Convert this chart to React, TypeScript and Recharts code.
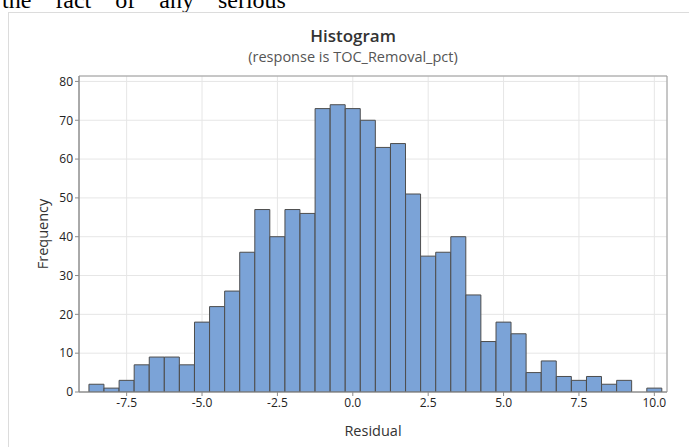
import {
  ComposedChart,
  Bar,
  XAxis,
  YAxis,
  CartesianGrid,
  ReferenceArea,
} from "recharts";

// bin midpoints (width 0.5) and counts
const binMids: number[] = [
  -8.5, -8.0, -7.5, -7.0, -6.5, -6.0, -5.5, -5.0, -4.5, -4.0, -3.5, -3.0, -2.5,
  -2.0, -1.5, -1.0, -0.5, 0.0, 0.5, 1.0, 1.5, 2.0, 2.5, 3.0, 3.5, 4.0, 4.5, 5.0,
  5.5, 6.0, 6.5, 7.0, 7.5, 8.0, 8.5, 9.0, 9.5, 10.0,
];
const counts: number[] = [
  2, 1, 3, 7, 9, 9, 7, 18, 22, 26, 36, 47, 40, 47, 46, 73, 74, 73, 70, 63, 64,
  51, 35, 36, 40, 25, 13, 18, 15, 5, 8, 4, 3, 4, 2, 3, 0, 1,
];
const xTicks: number[] = [-7.5, -5.0, -2.5, 0.0, 2.5, 5.0, 7.5, 10.0];
const yTicks: number[] = [0, 10, 20, 30, 40, 50, 60, 70, 80];
const xDomain: [number, number] = [-9.08, 10.42];
const yDomain: [number, number] = [0, 81.4];

const data = binMids.map((m, i) => ({ mid: m, count: counts[i] }));

const font = "'Open Sans', 'Noto Sans', sans-serif";

const App = () => {
  return (
    <div
      style={{
        position: "absolute",
        left: 0,
        top: 0,
        width: 689,
        height: 447,
        overflow: "hidden",
        background: "#fff",
        fontFamily: font,
      }}
    >
      <div
        style={{
          position: "absolute",
          left: 2,
          top: -13,
          fontFamily: "'Liberation Serif', serif",
          fontSize: 24,
          wordSpacing: 18,
          color: "#000",
          whiteSpace: "nowrap",
        }}
      >
        the fact of any serious
      </div>
      <div
        style={{
          position: "absolute",
          left: 8,
          top: 12,
          width: 700,
          height: 460,
          borderLeft: "1px solid #dcdcdc",
          borderTop: "1px solid #dcdcdc",
        }}
      />
      <div
        style={{
          position: "absolute",
          left: 0,
          width: 706,
          top: 24,
          textAlign: "center",
          fontSize: 17,
          fontWeight: 600,
          color: "#333",
        }}
      >
        Histogram
      </div>
      <div
        style={{
          position: "absolute",
          left: 0,
          width: 706,
          top: 47,
          textAlign: "center",
          fontSize: 14.5,
          color: "#555",
        }}
      >
        (response is TOC_Removal_pct)
      </div>
      <div style={{ position: "absolute", left: 0, top: 0 }}>
        <ComposedChart
          width={689}
          height={447}
          data={data}
          margin={{ top: 76, right: 22, bottom: 25, left: 39 }}
          barCategoryGap={0}
          barGap={0}
        >
          <CartesianGrid stroke="#e6e6e6" strokeWidth={1} />
          <XAxis
            dataKey="mid"
            type="number"
            domain={xDomain}
            ticks={xTicks}
            allowDataOverflow
            tickFormatter={(v: number) => v.toFixed(1)}
            height={30}
            tickSize={4}
            tickLine={{ stroke: "#8c8c8c" }}
            axisLine={{ stroke: "#8c8c8c" }}
            tick={{ fontSize: 12, fill: "#222", fontFamily: font }}
            label={{
              value: "Residual",
              position: "insideBottom",
              offset: -14,
              fontSize: 14.5,
              fill: "#333",
              fontFamily: font,
            }}
          />
          <YAxis
            type="number"
            domain={yDomain}
            ticks={yTicks}
            allowDataOverflow
            width={40}
            tickSize={4}
            tickLine={{ stroke: "#8c8c8c" }}
            axisLine={{ stroke: "#8c8c8c" }}
            tick={{ fontSize: 12, fill: "#222", fontFamily: font }}
            label={{
              value: "Frequency",
              angle: -90,
              position: "insideLeft",
              offset: 4,
              fontSize: 14.5,
              fill: "#333",
              fontFamily: font,
              style: { textAnchor: "middle" },
            }}
          />
          <ReferenceArea
            x1={xDomain[0]}
            x2={xDomain[1]}
            y1={yDomain[0]}
            y2={yDomain[1]}
            fill="none"
            stroke="#9a9a9a"
            strokeWidth={1}
            ifOverflow="visible"
          />
          <Bar
            dataKey="count"
            fill="#7ba3d7"
            stroke="#4d4d4d"
            strokeWidth={1}
            isAnimationActive={false}
          />
        </ComposedChart>
      </div>
    </div>
  );
};

export default App;
